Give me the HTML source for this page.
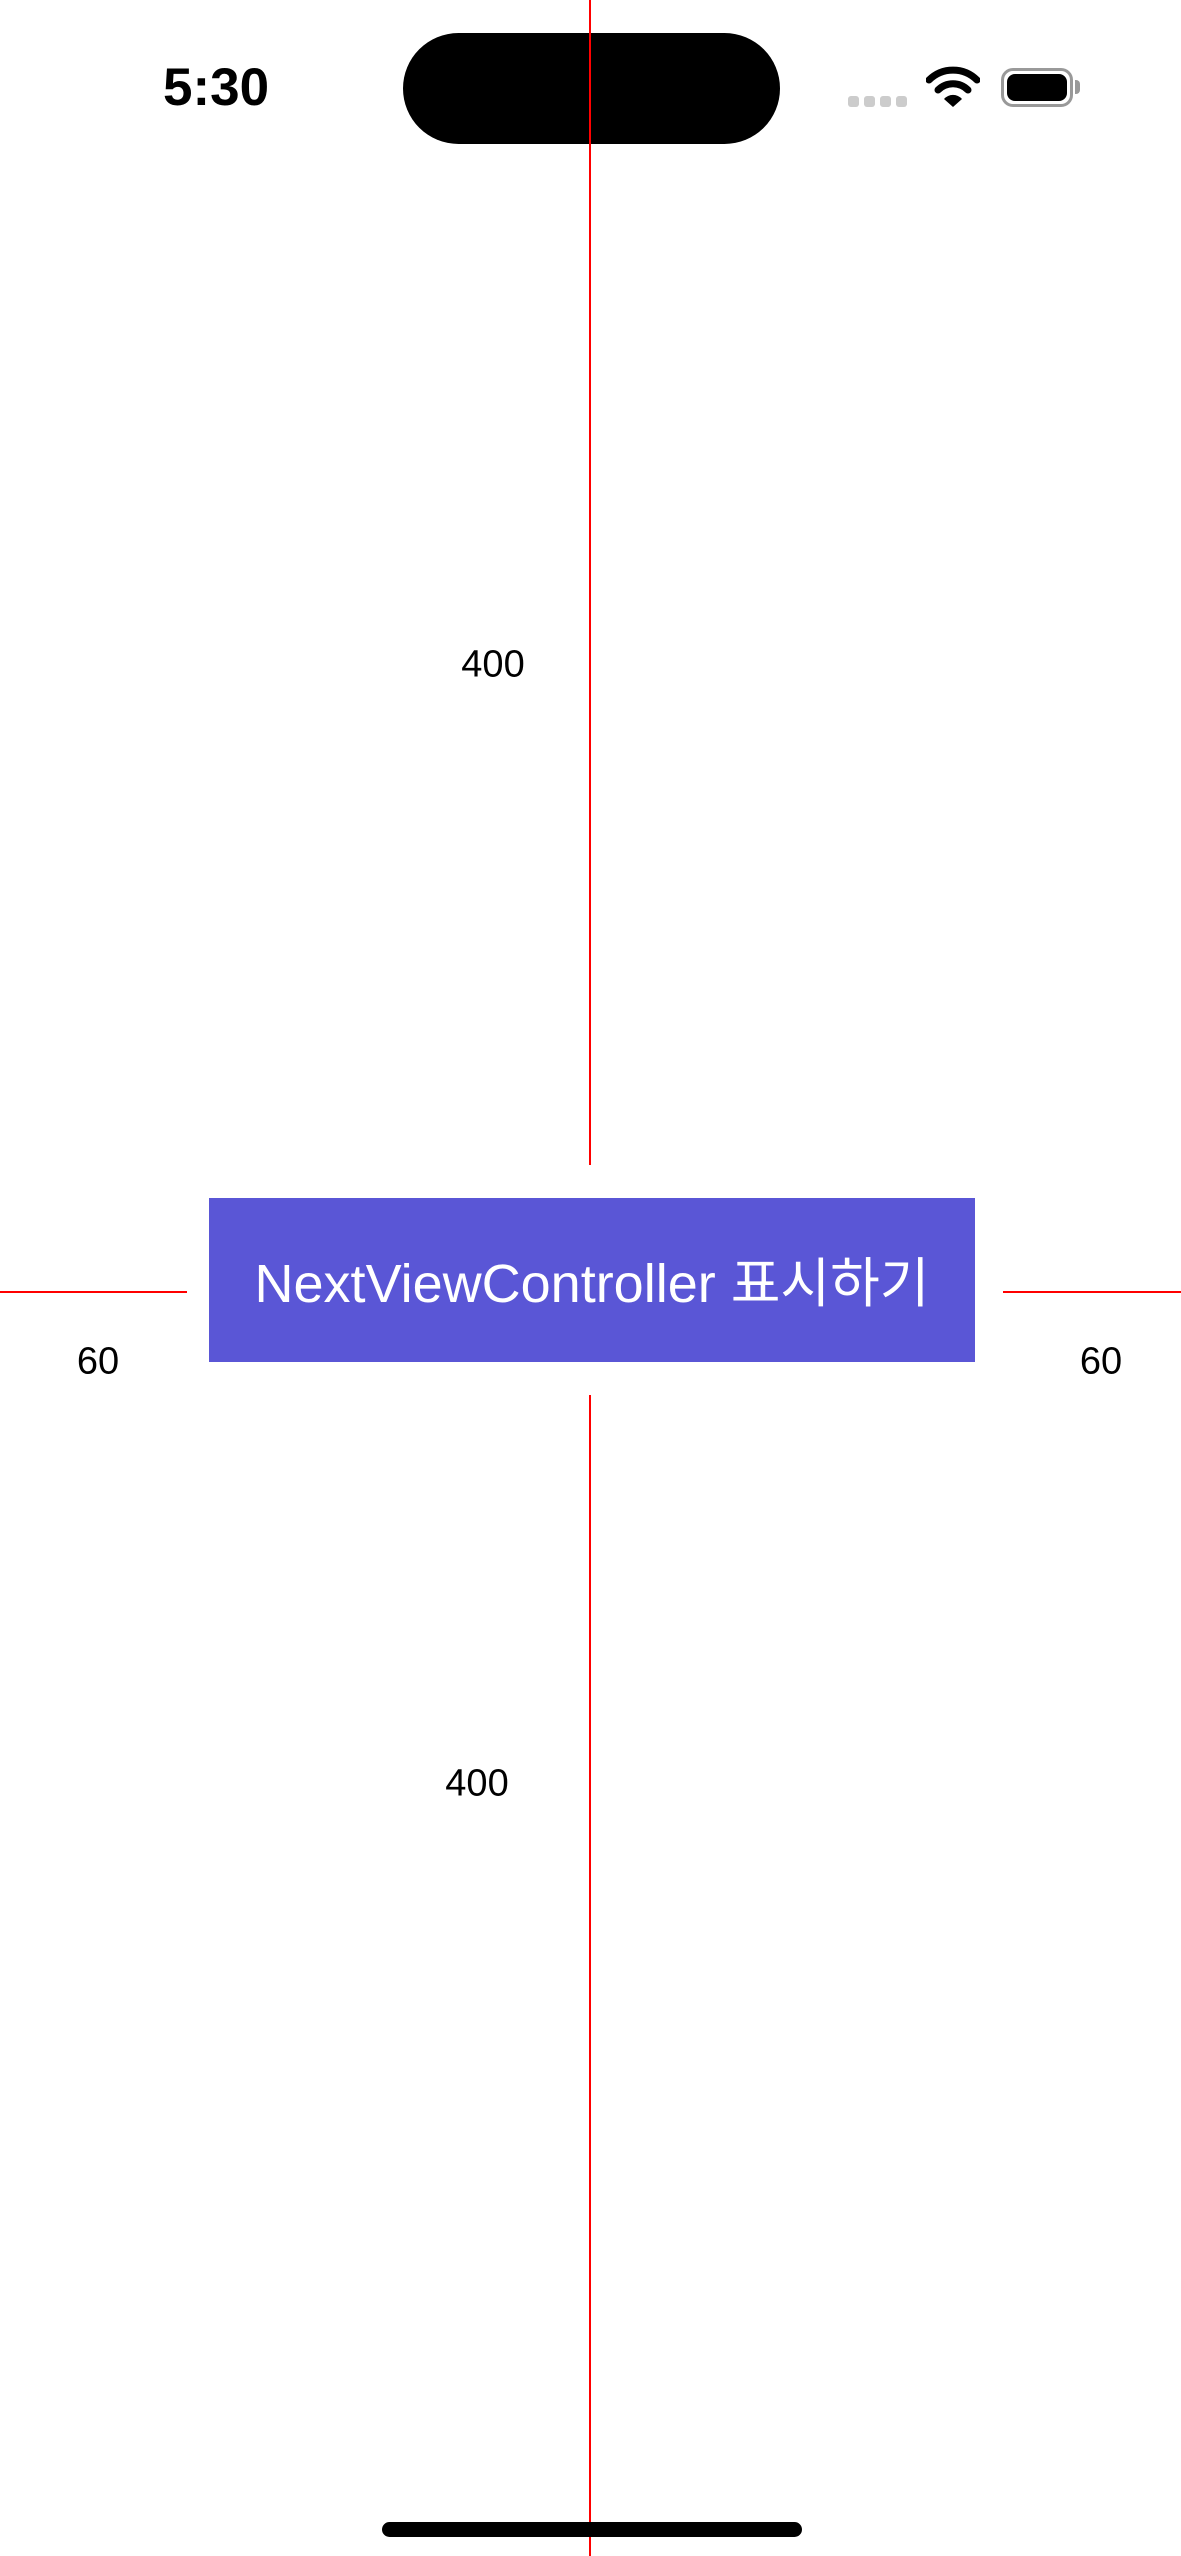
<!DOCTYPE html>
<html><head><meta charset="utf-8"><style>
html,body{margin:0;padding:0;width:1181px;height:2556px;background:#fff;overflow:hidden;position:relative;font-family:"Liberation Sans","Noto Sans CJK KR",sans-serif}
.a{position:absolute}
.lbl{font-size:38px;color:#000;transform:translate(-50%,-50%);white-space:nowrap}
.red{background:#f00}
</style></head><body>
<div class="a" style="left:163px;top:58px;font-size:53px;font-weight:bold;line-height:60px">5:30</div>
<div class="a" style="left:403px;top:33px;width:377px;height:111px;border-radius:56px;background:#000"></div>
<div class="a" style="left:848px;top:96px">
<span class="a" style="left:0;width:11px;height:11px;border-radius:3px;background:#ccc"></span>
<span class="a" style="left:16px;width:11px;height:11px;border-radius:3px;background:#ccc"></span>
<span class="a" style="left:32px;width:11px;height:11px;border-radius:3px;background:#ccc"></span>
<span class="a" style="left:48px;width:11px;height:11px;border-radius:3px;background:#ccc"></span>
</div>
<svg class="a" style="left:926px;top:66px" width="54" height="42" viewBox="0 0 54 42">
<path d="M3 14 A34 34 0 0 1 51 14" stroke="#000" stroke-width="7" fill="none" stroke-linecap="round"/>
<path d="M12 24 A21 21 0 0 1 42 24" stroke="#000" stroke-width="7" fill="none" stroke-linecap="round"/>
<path d="M18 33 L27 41 L36 33 A12 12 0 0 0 18 33Z" fill="#000"/>
</svg>
<div class="a" style="left:1001px;top:68px;width:66px;height:33px;border:3px solid #999;border-radius:12px">
<div class="a" style="left:3px;top:3px;width:60px;height:27px;background:#000;border-radius:8px"></div>
</div>
<div class="a" style="left:1075px;top:80px;width:5px;height:14px;background:#999;border-radius:0 4px 4px 0"></div>

<div class="a red" style="left:589px;top:0;width:2px;height:1165px"></div>
<div class="a red" style="left:589px;top:1395px;width:2px;height:1161px"></div>
<div class="a red" style="left:0;top:1291px;width:187px;height:2px"></div>
<div class="a red" style="left:1003px;top:1291px;width:178px;height:2px"></div>

<div class="a lbl" style="left:493px;top:665px">400</div>
<div class="a lbl" style="left:98px;top:1362px">60</div>
<div class="a lbl" style="left:1101px;top:1362px">60</div>
<div class="a lbl" style="left:477px;top:1784px">400</div>

<div class="a" style="left:209px;top:1198px;width:766px;height:164px;background:#5a56d6;color:#fff;font-size:54px;display:flex;align-items:center;justify-content:center;white-space:nowrap;padding-bottom:4px;box-sizing:border-box">NextViewController 표시하기</div>

<div class="a" style="left:382px;top:2522px;width:420px;height:15px;border-radius:8px;background:#000"></div>
</body></html>
